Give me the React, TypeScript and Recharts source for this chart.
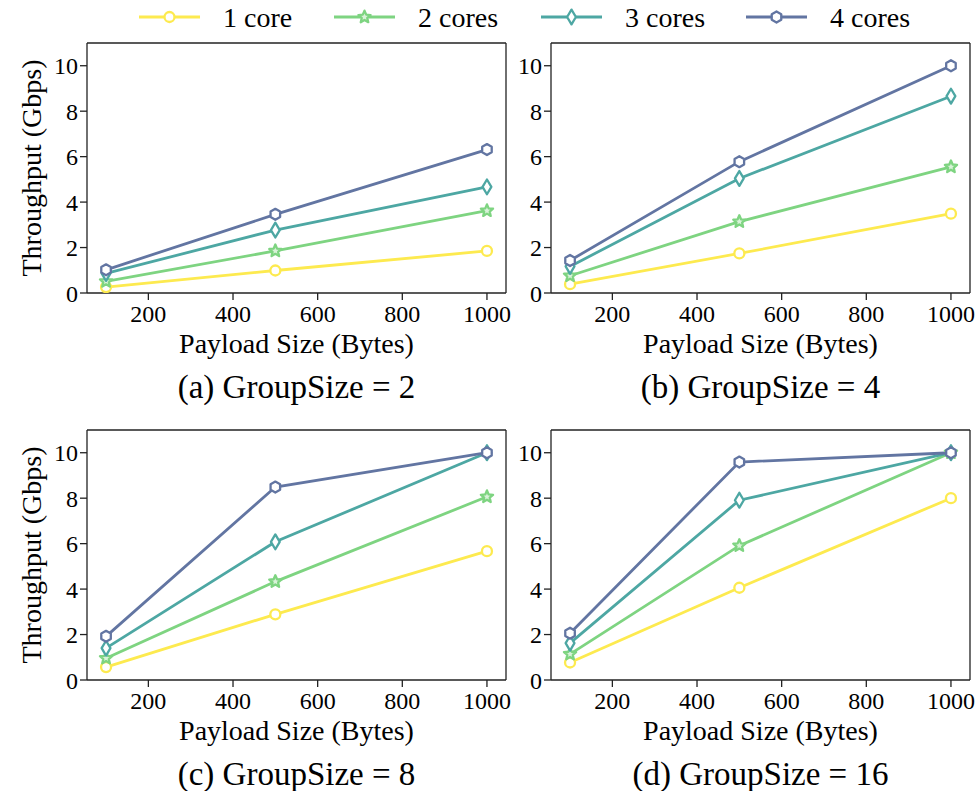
import React from 'react';
import { LineChart, Line, XAxis, YAxis, Label } from 'recharts';

// ---------- data ----------
const payloadSizes = [100, 500, 1000];
const seriesNames = ['1 core', '2 cores', '3 cores', '4 cores'];
const xTicks = [200, 400, 600, 800, 1000];
const yTicks = [0, 2, 4, 6, 8, 10];
const panelTitles = ['(a) GroupSize = 2', '(b) GroupSize = 4', '(c) GroupSize = 8', '(d) GroupSize = 16'];

const g2Core1 = [0.26, 0.99, 1.85];
const g2Core2 = [0.51, 1.85, 3.62];
const g2Core3 = [0.86, 2.77, 4.67];
const g2Core4 = [1.02, 3.46, 6.31];

const g4Core1 = [0.39, 1.74, 3.49];
const g4Core2 = [0.76, 3.14, 5.55];
const g4Core3 = [1.17, 5.04, 8.66];
const g4Core4 = [1.43, 5.78, 10.0];

const g8Core1 = [0.57, 2.89, 5.67];
const g8Core2 = [0.96, 4.33, 8.06];
const g8Core3 = [1.40, 6.08, 10.0];
const g8Core4 = [1.92, 8.49, 10.0];

const g16Core1 = [0.77, 4.06, 8.0];
const g16Core2 = [1.14, 5.91, 10.0];
const g16Core3 = [1.62, 7.91, 10.0];
const g16Core4 = [2.06, 9.59, 10.0];

const buildRows = (c1: number[], c2: number[], c3: number[], c4: number[]) =>
  payloadSizes.map((p, i) => ({ payload: p, c1: c1[i], c2: c2[i], c3: c3[i], c4: c4[i] }));

const panelData = [
  buildRows(g2Core1, g2Core2, g2Core3, g2Core4),
  buildRows(g4Core1, g4Core2, g4Core3, g4Core4),
  buildRows(g8Core1, g8Core2, g8Core3, g8Core4),
  buildRows(g16Core1, g16Core2, g16Core3, g16Core4),
];

// ---------- styles ----------
const FONT = '"Liberation Serif", "Times New Roman", serif';
const seriesKeys = ['c1', 'c2', 'c3', 'c4'];
const seriesColors = ['#fdea4f', '#7ed481', '#4da7a3', '#6275a2'];
const seriesShapes = ['circle', 'star', 'thin_diamond', 'hexagon'];
const AXIS = '#222';

function MarkerShape({ shape, cx, cy, color }: { shape: string; cx: number; cy: number; color: string }) {
  const sw = 2.3;
  if (shape === 'circle') {
    return <circle cx={cx} cy={cy} r={5} fill="#fff" stroke={color} strokeWidth={sw} />;
  }
  if (shape === 'star') {
    const pts: string[] = [];
    for (let i = 0; i < 10; i++) {
      const a = ((-90 + i * 36) * Math.PI) / 180;
      const r = i % 2 === 0 ? 6.4 : 2.9;
      pts.push(`${cx + r * Math.cos(a)},${cy + r * Math.sin(a)}`);
    }
    return <polygon points={pts.join(' ')} fill="#d9f2d9" stroke={color} strokeWidth={sw} strokeLinejoin="round" />;
  }
  if (shape === 'thin_diamond') {
    const pts = `${cx},${cy - 7.4} ${cx + 4.4},${cy} ${cx},${cy + 7.4} ${cx - 4.4},${cy}`;
    return <polygon points={pts} fill="#fff" stroke={color} strokeWidth={sw} strokeLinejoin="round" />;
  }
  const pts: string[] = [];
  for (let i = 0; i < 6; i++) {
    const a = ((-90 + i * 60) * Math.PI) / 180;
    pts.push(`${cx + 5.5 * Math.cos(a)},${cy + 5.5 * Math.sin(a)}`);
  }
  return <polygon points={pts.join(' ')} fill="#fff" stroke={color} strokeWidth={sw} strokeLinejoin="round" />;
}

const makeDot = (shape: string, color: string) => (p: any) => {
  if (p == null || p.cx == null || p.cy == null) return <g key={`e-${p?.index}`} />;
  return (
    <g key={`dot-${shape}-${p.index}`}>
      <MarkerShape shape={shape} cx={p.cx} cy={p.cy} color={color} />
    </g>
  );
};

// layout constants (local to each chart svg)
const PLOT_LEFT = 87;
const PLOT_RIGHT = 506;
const PLOT_TOP = 43;
const PLOT_BOTTOM = 293;

function Panel({ left, top, width, height, data, title, showYLabel }: any) {
  const rightMargin = width - PLOT_RIGHT - 4;
  const cx = (PLOT_LEFT + PLOT_RIGHT) / 2;
  return (
    <div style={{ position: 'absolute', left, top }}>
      <LineChart
        width={width}
        height={height}
        data={data}
        margin={{ top: PLOT_TOP - 30, right: rightMargin, left: 0, bottom: 0 }}
      >
        <XAxis
          dataKey="payload"
          type="number"
          domain={[55, 1045]}
          ticks={xTicks}
          allowDataOverflow
          height={height - PLOT_BOTTOM}
          tickSize={7}
          tickMargin={5}
          axisLine={{ stroke: AXIS, strokeWidth: 1.3 }}
          tickLine={{ stroke: AXIS, strokeWidth: 1.3 }}
          tick={{ fill: '#000', fontSize: 24, fontFamily: FONT }}
        >
          <Label
            content={() => (
              <g>
                <text x={cx} y={353} textAnchor="middle" fontSize={28} fontFamily={FONT} fill="#000">
                  Payload Size (Bytes)
                </text>
                <text x={cx} y={398} textAnchor="middle" fontSize={33} fontFamily={FONT} fill="#000">
                  {title}
                </text>
              </g>
            )}
          />
        </XAxis>
        <XAxis
          xAxisId="top"
          orientation="top"
          dataKey="payload"
          type="number"
          domain={[55, 1045]}
          height={30}
          tick={false}
          tickLine={false}
          axisLine={{ stroke: AXIS, strokeWidth: 1.3 }}
        />
        <YAxis
          type="number"
          domain={[0, 11]}
          ticks={yTicks}
          allowDataOverflow
          width={PLOT_LEFT}
          tickSize={7}
          tickMargin={2}
          axisLine={{ stroke: AXIS, strokeWidth: 1.3 }}
          tickLine={{ stroke: AXIS, strokeWidth: 1.3 }}
          tick={{ fill: '#000', fontSize: 24, fontFamily: FONT }}
        >
          {showYLabel ? (
            <Label
              content={() => (
                <text
                  transform={`translate(41, ${(PLOT_TOP + PLOT_BOTTOM) / 2}) rotate(-90)`}
                  textAnchor="middle"
                  fontSize={28}
                  fontFamily={FONT}
                  fill="#000"
                >
                  Throughput (Gbps)
                </text>
              )}
            />
          ) : null}
        </YAxis>
        <YAxis
          yAxisId="right"
          orientation="right"
          type="number"
          domain={[0, 11]}
          width={4}
          tick={false}
          tickLine={false}
          axisLine={{ stroke: AXIS, strokeWidth: 1.3 }}
        />
        {seriesKeys.map((k, i) => (
          <Line
            key={k}
            type="linear"
            dataKey={k}
            name={seriesNames[i]}
            stroke={seriesColors[i]}
            strokeWidth={2.8}
            dot={makeDot(seriesShapes[i], seriesColors[i])}
            activeDot={false}
            isAnimationActive={false}
          />
        ))}
      </LineChart>
    </div>
  );
}

const legendLineStarts = [139, 334, 541, 746];

function LegendBar() {
  return (
    <svg width={979} height={38} style={{ position: 'absolute', left: 0, top: 0 }}>
      {seriesNames.map((n, i) => {
        const x0 = legendLineStarts[i];
        return (
          <g key={n}>
            <line x1={x0} y1={17} x2={x0 + 61} y2={17} stroke={seriesColors[i]} strokeWidth={2.8} />
            <MarkerShape shape={seriesShapes[i]} cx={x0 + 30.5} cy={17} color={seriesColors[i]} />
            <text x={x0 + 84} y={27} fontSize={28} fontFamily={FONT} fill="#000">
              {n}
            </text>
          </g>
        );
      })}
    </svg>
  );
}

export default function App() {
  return (
    <div style={{ position: 'absolute', left: 0, top: 0, width: 979, height: 791, overflow: 'hidden', background: '#fff' }}>
      <Panel left={0} top={0} width={520} height={420} data={panelData[0]} title={panelTitles[0]} showYLabel />
      <Panel left={464} top={0} width={515} height={420} data={panelData[1]} title={panelTitles[1]} showYLabel={false} />
      <Panel left={0} top={387} width={520} height={404} data={panelData[2]} title={panelTitles[2]} showYLabel />
      <Panel left={464} top={387} width={515} height={404} data={panelData[3]} title={panelTitles[3]} showYLabel={false} />
      <LegendBar />
    </div>
  );
}
